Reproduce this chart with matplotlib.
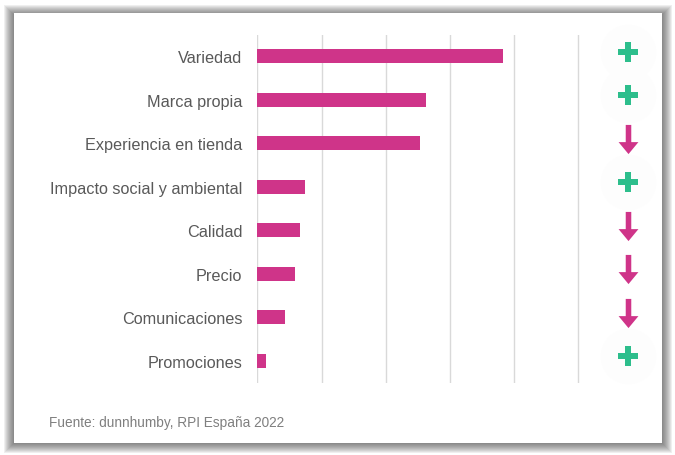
import matplotlib.pyplot as plt
import numpy as np
from matplotlib.patches import Rectangle

plt.rcParams['font.family'] = ['Liberation Sans', 'DejaVu Sans']

# Data
categories = ["Variedad", "Marca propia", "Experiencia en tienda",
              "Impacto social y ambiental", "Calidad", "Precio",
              "Comunicaciones", "Promociones"]
values = [3.83, 2.62, 2.53, 0.75, 0.665, 0.59, 0.43, 0.14]
trend = ["up", "up", "down", "up", "down", "down", "down", "up"]
grid_ticks = [0, 1, 2, 3, 4, 5]
source = "Fuente: dunnhumby, RPI España 2022"

W, H = 675, 456
fig = plt.figure(figsize=(W / 100, H / 100), dpi=100)
fig.patch.set_facecolor("white")

# Frame with soft shadow (pixel coords -> figure fractions)
def px_rect(x0, y0, x1, y1, **kw):
    r = Rectangle((x0 / W, 1 - y1 / H), (x1 - x0) / W, (y1 - y0) / H,
                  transform=fig.transFigure, **kw)
    fig.add_artist(r)
    return r

for d in range(10, 0, -1):
    px_rect(14 - d, 14 - d + 2, 662 + d, 444 + d, facecolor="#383838",
            edgecolor="none", alpha=0.08, zorder=0)
px_rect(14, 14, 662, 444, facecolor="white", edgecolor="none", zorder=0.5)

xmax = 5.03
ax = fig.add_axes([257.3 / W, 1 - 383.5 / H, 64.2 * xmax / W, 348.0 / H])
ax.set_facecolor("none")
ax.set_zorder(2)

bar_color = "#CF3489"
green = "#2DBE8C"

y = np.arange(len(categories))
ax.barh(y, values, height=0.33, color=bar_color, zorder=3)

ax.set_xlim(0, xmax)
ax.set_ylim(len(categories) - 0.5, -0.5)
ax.set_xticks(grid_ticks)
ax.set_xticklabels([])
ax.grid(axis="x", color="#d9d9d9", linewidth=1.0, zorder=0)
ax.set_yticks(y)
ax.set_yticklabels(categories, fontsize=11.7, color="#595959")
ax.tick_params(axis="both", length=0, pad=10.8)
for s in ax.spines.values():
    s.set_visible(False)

# Trend icons
arrow = [(-0.095, 0.5), (0.095, 0.5), (0.095, -0.09), (0.34, -0.09),
         (0.0, -0.5), (-0.34, -0.09), (-0.095, -0.09), (-0.095, 0.5)]
icon_x = 5.78
for i, t in enumerate(trend):
    yy = i - 0.1
    if t == "up":
        ax.plot(icon_x, yy, marker="o", markersize=40, color="#fdfdfd",
                markeredgewidth=0, clip_on=False, zorder=1)
        ax.plot(icon_x, yy, marker="P", markersize=15, color=green,
                markeredgewidth=0, clip_on=False, zorder=4)
    else:
        ax.plot(icon_x, yy, marker=arrow, markersize=21, color=bar_color,
                markeredgewidth=0, clip_on=False, zorder=4)

fig.text(49 / W, 1 - 423 / H, source, fontsize=9.8, color="#7f7f7f",
         va="center", ha="left")

fig.savefig("out.png", dpi=100)
